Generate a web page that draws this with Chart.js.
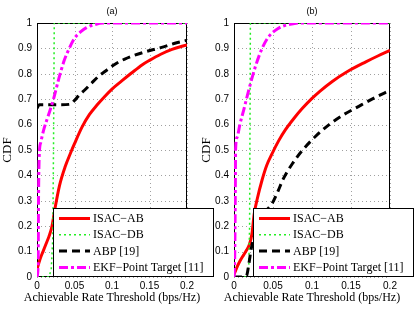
<!DOCTYPE html>
<html lang="en">
<head>
    <meta charset="UTF-8">
    <title>CDF of achievable rate threshold</title>
    <script src="https://cdn.jsdelivr.net/npm/chart.js"></script>
    <style>
        body { margin: 0; background: #fff; }
        canvas { position: absolute; top: 0; }
    </style>
</head>
<body>
    <canvas id="chartA" width="215" height="312" style="left:0"></canvas>
    <canvas id="chartB" width="215" height="312" style="left:200px"></canvas>
    <script>
        // axis ticks
        const xTicks = [0, 0.05, 0.1, 0.15, 0.2];
        const yTicks = [0, 0.1, 0.2, 0.3, 0.4, 0.5, 0.6, 0.7, 0.8, 0.9, 1];
        const seriesNames = ['ISAC\u2212AB', 'ISAC\u2212DB', 'ABP [19]', 'EKF\u2212Point Target [11]'];
        const panelTitles = ['(a)', '(b)'];
        const xLabel = 'Achievable Rate Threshold (bps/Hz)';

        // (a) - values
        const abRateA = [0, 0.004, 0.008, 0.012, 0.016, 0.02, 0.024, 0.03, 0.0375, 0.045, 0.05, 0.06, 0.07, 0.08, 0.09, 0.1, 0.113, 0.126, 0.14, 0.15, 0.165, 0.18, 0.2];
        const abCdfA  = [0.03, 0.07, 0.1, 0.13, 0.16, 0.2, 0.27, 0.36, 0.434, 0.49, 0.525, 0.59, 0.64, 0.677, 0.71, 0.74, 0.772, 0.803, 0.835, 0.853, 0.877, 0.896, 0.914];
        const dbRateA = [0, 0.016, 0.019, 0.021, 0.022, 0.023, 0.2];
        const dbCdfA  = [0, 0, 0.03, 0.15, 0.5, 1, 1];
        const abpRateA = [0, 0.003, 0.01, 0.02, 0.03, 0.044, 0.05, 0.055, 0.065, 0.073, 0.082, 0.09, 0.104, 0.117, 0.13, 0.145, 0.165, 0.185, 0.2];
        const abpCdfA  = [0.665, 0.678, 0.678, 0.678, 0.678, 0.68, 0.695, 0.712, 0.74, 0.764, 0.79, 0.808, 0.838, 0.858, 0.873, 0.887, 0.903, 0.921, 0.932];
        const ekfRateA = [0, 0.0015, 0.002, 0.003, 0.005, 0.009, 0.015, 0.022, 0.029, 0.036, 0.043, 0.05, 0.058, 0.066, 0.076, 0.088, 0.2];
        const ekfCdfA  = [0, 0.05, 0.3, 0.48, 0.53, 0.58, 0.635, 0.7, 0.78, 0.85, 0.9, 0.94, 0.965, 0.982, 0.993, 1, 1];

        // (b)
        const abRateB = [0, 0.004, 0.008, 0.012, 0.016, 0.02, 0.023, 0.026, 0.03, 0.036, 0.042, 0.049, 0.057, 0.066, 0.077, 0.088, 0.1, 0.11, 0.126, 0.145, 0.169, 0.185, 0.2];
        const abCdfB  = [0.01, 0.04, 0.065, 0.085, 0.105, 0.13, 0.17, 0.25, 0.31, 0.382, 0.44, 0.487, 0.535, 0.58, 0.625, 0.665, 0.703, 0.731, 0.77, 0.808, 0.847, 0.871, 0.892];
        const dbRateB = [0, 0.016, 0.019, 0.02, 0.021, 0.2];
        const dbCdfB  = [0, 0, 0.05, 0.2, 1, 1];
        const abpRateB = [0, 0.008, 0.016, 0.019, 0.022, 0.026, 0.03, 0.035, 0.041, 0.049, 0.056, 0.063, 0.075, 0.088, 0.105, 0.122, 0.14, 0.16, 0.18, 0.2];
        const abpCdfB  = [0, 0, 0.005, 0.05, 0.11, 0.16, 0.2, 0.235, 0.26, 0.29, 0.335, 0.385, 0.447, 0.5, 0.555, 0.6, 0.638, 0.672, 0.705, 0.735];
        const ekfRateB = [0, 0.001, 0.0017, 0.002, 0.004, 0.0075, 0.0125, 0.019, 0.0275, 0.036, 0.043, 0.049, 0.056, 0.062, 0.072, 0.085, 0.2];
        const ekfCdfB  = [0, 0.1, 0.35, 0.5, 0.55, 0.6, 0.658, 0.737, 0.829, 0.9, 0.94, 0.961, 0.977, 0.987, 0.995, 1, 1];

        const lineStyles = [
            { borderColor: '#ff0000', borderWidth: 3, borderDash: [], cubicInterpolationMode: 'monotone' },
            { borderColor: '#22ee22', borderWidth: 1.5, borderDash: [2, 3] },
            { borderColor: '#000000', borderWidth: 3, borderDash: [8, 5], cubicInterpolationMode: 'monotone' },
            { borderColor: '#ff00ff', borderWidth: 3, borderDash: [9, 3, 3, 3], cubicInterpolationMode: 'monotone' }
        ];

        const serif = '"Liberation Serif", "Times New Roman", serif';
        const sans = '"Liberation Sans", Arial, sans-serif';

        function toPoints(xs, ys) {
            return xs.map((x, i) => ({ x: x, y: ys[i] }));
        }

        // dotted grid, box, titles and legend the way matlab draws them
        const matlabFrame = {
            id: 'matlabFrame',
            beforeDatasetsDraw(chart, args, opts) {
                const a = chart.chartArea;
                const ctx = chart.ctx;
                const sx = chart.scales.x, sy = chart.scales.y;
                ctx.save();
                ctx.strokeStyle = '#a0a0a0';
                ctx.lineWidth = 1;
                ctx.setLineDash([1, 3]);
                ctx.beginPath();
                xTicks.forEach(v => {
                    const px = Math.round(sx.getPixelForValue(v)) + 0.5;
                    ctx.moveTo(px, a.top);
                    ctx.lineTo(px, a.bottom);
                });
                yTicks.forEach(v => {
                    const py = Math.round(sy.getPixelForValue(v)) + 0.5;
                    ctx.moveTo(a.left, py);
                    ctx.lineTo(a.right, py);
                });
                ctx.stroke();
                ctx.setLineDash([]);
                ctx.strokeStyle = '#000';
                ctx.strokeRect(a.left + 0.5, a.top + 0.5, a.right - a.left - 1, a.bottom - a.top - 1);

                ctx.fillStyle = '#000';
                ctx.textAlign = 'center';
                ctx.textBaseline = 'middle';
                ctx.font = '9px ' + sans;
                ctx.fillText(opts.title, (a.left + a.right) / 2, 12);
                ctx.font = '12px ' + serif;
                ctx.fillText(xLabel, (a.left + a.right) / 2, 298);
                ctx.restore();
            },
            afterDatasetsDraw(chart, args, opts) {
                const a = chart.chartArea;
                const ctx = chart.ctx;
                const left = a.left + opts.legendLeft;
                const top = 208.5;
                const w = 160, h = 68;
                ctx.save();
                ctx.fillStyle = '#fff';
                ctx.fillRect(left, top, w, h);
                ctx.strokeStyle = '#000';
                ctx.lineWidth = 1;
                ctx.strokeRect(left + 0.5, top, w, h);
                ctx.font = '12px ' + serif;
                ctx.textBaseline = 'middle';
                ctx.textAlign = 'left';
                chart.data.datasets.forEach((ds, i) => {
                    const y = top + 10 + i * 16.3;
                    ctx.beginPath();
                    ctx.strokeStyle = ds.borderColor;
                    ctx.lineWidth = ds.borderWidth;
                    ctx.setLineDash(ds.borderDash);
                    ctx.moveTo(left + 6, y);
                    ctx.lineTo(left + 37, y);
                    ctx.stroke();
                    ctx.setLineDash([]);
                    ctx.fillStyle = '#000';
                    ctx.fillText(ds.label, left + 40, y + 0.5);
                });
                ctx.restore();
            }
        };

        function makeChart(id, series, title, yAxisWidth, rightPad, legendLeft) {
            const datasets = series.map((s, i) => Object.assign({
                label: seriesNames[i],
                data: toPoints(s[0], s[1]),
                pointRadius: 0,
                fill: false,
                tension: 0,
                order: 3 - i
            }, lineStyles[i]));

            return new Chart(document.getElementById(id), {
                type: 'line',
                data: { datasets: datasets },
                plugins: [matlabFrame],
                options: {
                    responsive: false,
                    animation: false,
                    layout: { padding: { top: 23, right: rightPad, bottom: 0, left: 0 } },
                    plugins: {
                        legend: { display: false },
                        tooltip: { enabled: false },
                        matlabFrame: { title: title, legendLeft: legendLeft }
                    },
                    scales: {
                        x: {
                            type: 'linear',
                            min: 0,
                            max: 0.2,
                            afterBuildTicks: axis => { axis.ticks = xTicks.map(v => ({ value: v })); },
                            afterFit: axis => { axis.height = 35; },
                            ticks: {
                                padding: 3,
                                color: '#000',
                                maxRotation: 0,
                                font: { family: sans, size: 10 },
                                callback: v => String(v)
                            },
                            grid: { display: false, drawTicks: false },
                            border: { display: false }
                        },
                        y: {
                            min: 0,
                            max: 1,
                            afterBuildTicks: axis => { axis.ticks = yTicks.map(v => ({ value: v })); },
                            afterFit: axis => { axis.width = yAxisWidth; },
                            ticks: {
                                padding: 5,
                                color: '#000',
                                font: { family: sans, size: 10 },
                                callback: v => String(v)
                            },
                            grid: { display: false, drawTicks: false },
                            border: { display: false },
                            title: {
                                display: true,
                                text: 'CDF',
                                color: '#000',
                                font: { family: serif, size: 13, lineHeight: 1 },
                                padding: { top: yAxisWidth > 35 ? 1 : 0, bottom: 0 }
                            }
                        }
                    }
                }
            });
        }

        makeChart('chartA', [
            [abRateA, abCdfA], [dbRateA, dbCdfA], [abpRateA, abpCdfA], [ekfRateA, ekfCdfA]
        ], panelTitles[0], 37, 28, 16);

        makeChart('chartB', [
            [abRateB, abCdfB], [dbRateB, dbCdfB], [abpRateB, abpCdfB], [ekfRateB, ekfCdfB]
        ], panelTitles[1], 34, 25, 19);
    </script>
</body>
</html>
